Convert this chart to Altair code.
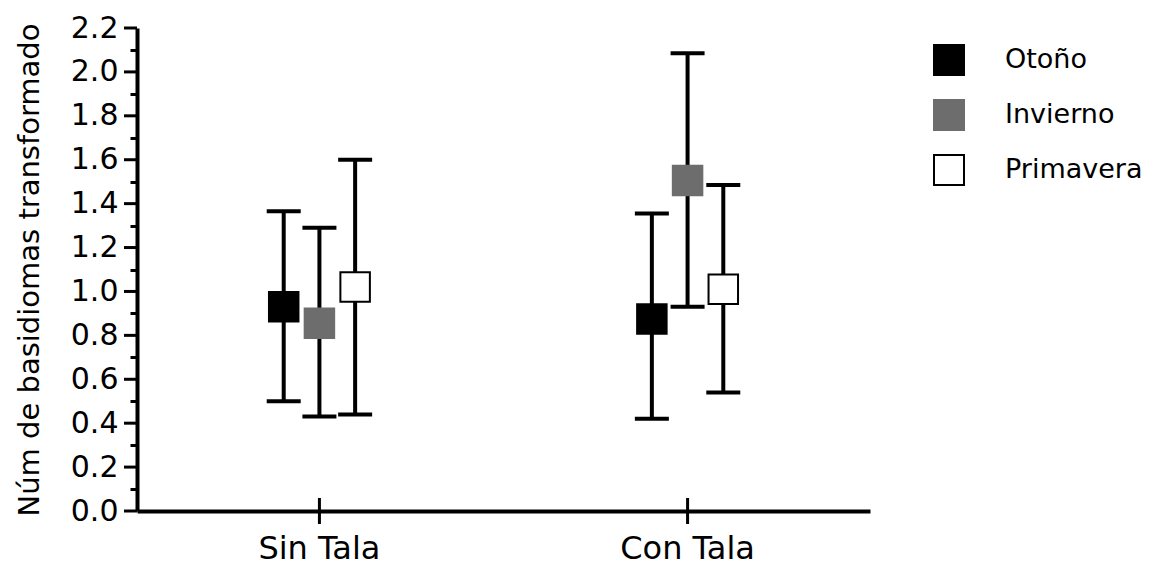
import altair as alt
import pandas as pd

# Treatment groups, seasons and the transformed basidiome counts (mean with error range)
groups = ["Sin Tala", "Sin Tala", "Sin Tala", "Con Tala", "Con Tala", "Con Tala"]
seasons = ["Otoño", "Invierno", "Primavera", "Otoño", "Invierno", "Primavera"]
means = [0.93, 0.855, 1.02, 0.875, 1.505, 1.01]
lower = [0.50, 0.43, 0.44, 0.42, 0.93, 0.54]
upper = [1.365, 1.29, 1.60, 1.355, 2.085, 1.485]

group_order = ["Sin Tala", "Con Tala"]
season_order = ["Otoño", "Invierno", "Primavera"]
fill_colors = ["#000000", "#6d6d6d", "#ffffff"]
stroke_colors = ["#000000", "#6d6d6d", "#000000"]
major_ticks = [round(i * 0.2, 1) for i in range(12)]
minor_ticks = [round(0.1 + i * 0.2, 1) for i in range(11)]

df = pd.DataFrame({
    "grupo": groups,
    "estacion": seasons,
    "media": means,
    "inf": lower,
    "sup": upper,
})

FONT = "DejaVu Sans"

x_enc = alt.X(
    "grupo:N",
    sort=group_order,
    scale=alt.Scale(paddingInner=0.709, paddingOuter=0.35),
    axis=alt.Axis(
        title=None,
        labelAngle=0,
        labelFont=FONT,
        labelFontSize=32,
        labelColor="black",
        labelPadding=22,
        ticks=False,
        domainColor="black",
        domainWidth=4,
        grid=False,
    ),
)
xoff_enc = alt.XOffset("estacion:N", sort=season_order,
                       scale=alt.Scale(paddingInner=0, paddingOuter=0))

y_scale = alt.Scale(domain=[0, 2.2], nice=False, zero=True)

# Main y axis: line, labels every 0.2 and the title
y_axis = alt.Axis(
    title="Núm de basidiomas transformado",
    titleFont=FONT,
    titleFontSize=29,
    titleFontWeight="normal",
    titleColor="black",
    titlePadding=26,
    values=major_ticks,
    format=".1f",
    labelFont=FONT,
    labelFontSize=30,
    labelColor="black",
    labelPadding=19,
    ticks=False,
    domainColor="black",
    domainWidth=4,
    grid=False,
    orient="left",
)

# Tick-only left axis for the short minor ticks
y_minor_axis = alt.Axis(
    title=None,
    values=minor_ticks,
    labels=False,
    domain=False,
    ticks=True,
    tickSize=7,
    tickWidth=3,
    tickColor="black",
    grid=False,
    orient="left",
)

base = alt.Chart(df)

# Vertical error lines
stems = base.mark_rule(color="black", strokeWidth=4).encode(
    x=x_enc,
    xOffset=xoff_enc,
    y=alt.Y("inf:Q", scale=y_scale, axis=y_axis),
    y2="sup:Q",
)

# Caps at both ends of each error line
cap_lo = base.mark_tick(color="black", thickness=4, size=34, orient="horizontal", opacity=1).encode(
    x=x_enc, xOffset=xoff_enc, y=alt.Y("inf:Q", scale=y_scale, axis=y_minor_axis)
)
cap_hi = base.mark_tick(color="black", thickness=4, size=34, orient="horizontal", opacity=1).encode(
    x=x_enc, xOffset=xoff_enc, y=alt.Y("sup:Q", scale=y_scale, axis=None)
)

# Mean markers
points = base.mark_square(size=870, strokeWidth=2, opacity=1).encode(
    x=x_enc,
    xOffset=xoff_enc,
    y=alt.Y("media:Q", scale=y_scale, axis=None),
    fill=alt.Fill("estacion:N", sort=season_order,
                  scale=alt.Scale(domain=season_order, range=fill_colors),
                  legend=alt.Legend(title=None)),
    stroke=alt.Stroke("estacion:N", sort=season_order,
                      scale=alt.Scale(domain=season_order, range=stroke_colors),
                      legend=alt.Legend(title=None)),
)

# Long ticks at the labelled y values, just left of the axis line
major_df = pd.DataFrame({"valor": major_ticks})
y_major = alt.Chart(major_df).mark_rule(color="black", strokeWidth=3).encode(
    x=alt.value(-13),
    x2=alt.value(0),
    y=alt.Y("valor:Q", scale=y_scale, axis=None),
)

# Category ticks crossing the x axis line
tick_df = pd.DataFrame({"grupo": group_order, "cero": [0, 0]})
x_ticks = alt.Chart(tick_df).mark_tick(color="black", thickness=3, size=26,
                                       orient="vertical", opacity=1).encode(
    x=alt.X("grupo:N", sort=group_order),
    y=alt.Y("cero:Q", scale=y_scale, axis=None),
)

chart = (
    alt.layer(stems, cap_lo, cap_hi, x_ticks, y_major, points)
    .resolve_axis(y="independent")
    .properties(
        width=733,
        height=483,
        autosize=alt.AutoSizeParams(type="none"),
        padding={"left": 137, "top": 28, "right": 291, "bottom": 55},
        background="white",
    )
    .configure_view(stroke=None)
    .configure_legend(
        orient="none",
        legendX=796,
        legendY=16,
        symbolSize=900,
        symbolStrokeWidth=2,
        symbolType="square",
        labelFont=FONT,
        labelFontSize=27,
        labelColor="black",
        labelOffset=40,
        rowPadding=17,
        labelLimit=300,
    )
)

chart.save("out.html", embed_options={"renderer": "svg", "actions": False})
